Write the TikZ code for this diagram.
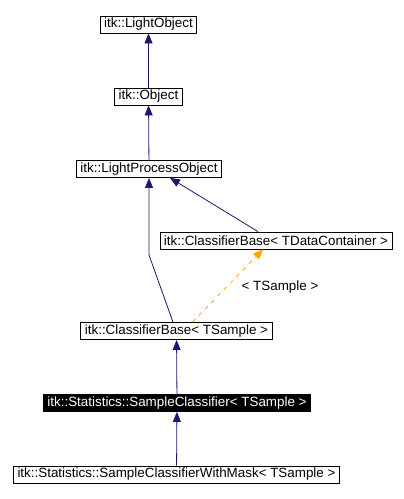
\documentclass[tikz,border=0pt]{standalone}
\usepackage{fontspec}
\setmainfont{Liberation Sans}
\usetikzlibrary{arrows.meta}
\definecolor{inhblue}{HTML}{191970}
\definecolor{tmplorange}{HTML}{FFA500}
\tikzset{%
  cls/.style={draw,line width=.8pt,inner xsep=4pt,inner ysep=2pt,minimum height=17pt,font=\fontsize{13.4}{15}\selectfont},
  current/.style={cls,fill=black,text=white},
  inh/.style={-{Triangle[length=10pt,width=8pt]},color=inhblue,line width=.8pt},
  tmpl/.style={-{Triangle[length=10pt,width=8pt]},color=tmplorange,line width=.8pt,dash pattern=on 4pt off 5pt},
  lbl/.style={font=\fontsize{13.4}{15}\selectfont}
}

\begin{document}
\begin{tikzpicture}[x=1pt,y=-1pt]
  \useasboundingbox (0,0) rectangle (404,499);

  \node[cls] (lo) at (148.5,24.5) {itk::LightObject};
  \node[cls] (obj) at (148.5,96.5) {itk::Object};
  \node[cls] (lpo) at (149,169) {itk::LightProcessObject};
  \node[cls] (cbt) at (276,240.5) {itk::ClassifierBase< TDataContainer >};
  \node[cls] (cbs) at (176.5,331) {itk::ClassifierBase< TSample >};
  \node[current] (sc) at (177,403) {itk::Statistics::SampleClassifier< TSample >};
  \node[cls] (scm) at (176.5,474.5) {itk::Statistics::SampleClassifierWithMask< TSample >};

  \coordinate (bend) at (149,255);

  \draw[inh] (obj) -- (lo);
  \draw[inh] (lpo) -- (obj);
  \draw[inh] ([xshift=-18pt]cbt.north) -- ([xshift=21pt]lpo.south);
  \draw[inh] ([xshift=-3.5pt]cbs.north) -- (bend) -- (lpo.south -| bend);
  \draw[tmpl] ([xshift=16pt]cbs.north) -- ([xshift=-13pt]cbt.south);
  \node[lbl] (arg) at (280,287) {< TSample >};
  \draw[inh] (sc) -- (cbs);
  \draw[inh] (scm) -- (sc);
\end{tikzpicture}
\end{document}
